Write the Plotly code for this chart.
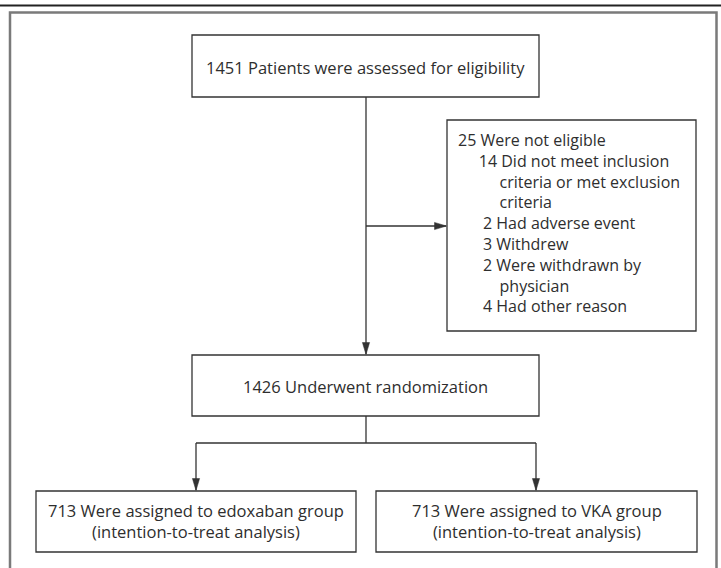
import plotly.graph_objects as go

# ---- data ----
assessed = 1451
not_eligible = 25
reason_counts = [14, 2, 3, 2, 4]
reason_lines = [
    ["Did not meet inclusion", "criteria or met exclusion", "criteria"],
    ["Had adverse event"],
    ["Withdrew"],
    ["Were withdrawn by", "physician"],
    ["Had other reason"],
]
randomized = 1426
group_names = ["edoxaban", "VKA"]
group_counts = [713, 713]

# ---- styling / layout geometry ----
W, H = 721, 568
FONT = "Open Sans"
FS = 16.5
FS_EX = 16
TXT = "#2e2e2e"
LINE = "#333333"
LW = 1.3
NB = "\u00a0"

box_top = (192, 35, 539, 97)
box_excl = (447, 120, 696, 331)
box_rand = (192, 355, 539, 416)
box_groups = [(36, 491, 356, 552), (376, 491, 697, 552)]

shapes = []
annotations = []


def rect(b):
    shapes.append(dict(type="rect", xref="x", yref="y", x0=b[0], y0=b[1], x1=b[2], y1=b[3],
                       line=dict(color=LINE, width=LW), fillcolor="white", layer="above"))


def seg(x0, y0, x1, y1, color=LINE, width=LW):
    shapes.append(dict(type="line", xref="x", yref="y", x0=x0, y0=y0, x1=x1, y1=y1,
                       line=dict(color=color, width=width), layer="above"))


def arrow_down(x, y_tip, L=12, hw=3.6):
    shapes.append(dict(type="path", xref="x", yref="y",
                       path=f"M {x-hw},{y_tip-L} L {x+hw},{y_tip-L} L {x},{y_tip} Z",
                       fillcolor=LINE, line=dict(color=LINE, width=0.5), layer="above"))


def arrow_right(x_tip, y, L=12, hw=3.6):
    shapes.append(dict(type="path", xref="x", yref="y",
                       path=f"M {x_tip-L},{y-hw} L {x_tip-L},{y+hw} L {x_tip},{y} Z",
                       fillcolor=LINE, line=dict(color=LINE, width=0.5), layer="above"))


def text(x, y, s, anchor="center", size=FS):
    annotations.append(dict(x=x, y=y, xref="x", yref="y", text=s, showarrow=False,
                            xanchor=anchor, yanchor="middle", align=anchor if anchor != "center" else "center",
                            font=dict(family=FONT, size=size, color=TXT)))


# outer frame
seg(0, 5.5, W, 5.5, color="#222222", width=2)
shapes.append(dict(type="path", xref="x", yref="y",
                   path=f"M 10,{H+5} L 10,12.5 L 716.5,12.5 L 716.5,{H+5}",
                   line=dict(color="#7a7a7a", width=2.5)))

# boxes
rect(box_top)
rect(box_excl)
rect(box_rand)
for b in box_groups:
    rect(b)

cx = 366
# main vertical line
seg(cx, box_top[3], cx, box_rand[1] - 1)
arrow_down(cx, box_rand[1] - 0.5)
# exclusion arrow
ey = 226
seg(cx, ey, box_excl[0] - 1, ey)
arrow_right(box_excl[0] - 0.5, ey)
# randomization branches
by = 443
lx, rx = 196, 536
seg(cx, box_rand[3], cx, by)
seg(lx, by, rx, by)
for x in (lx, rx):
    seg(x, by, x, box_groups[0][1] - 1)
    arrow_down(x, box_groups[0][1] - 0.5)

# texts
text(365.5, 67, f"{assessed} Patients were assessed for eligibility")
text(365.5, 386, f"{randomized} Underwent randomization")

ex_lines = [f"{not_eligible} Were not eligible"]
for cnt, parts in zip(reason_counts, reason_lines):
    ind = NB * (5 if cnt >= 10 else 6)
    ex_lines.append(f"{ind}{cnt} {parts[0]}")
    for p in parts[1:]:
        ex_lines.append(NB * 10 + p)
text(455.5, 223, "<br>".join(ex_lines), anchor="left", size=FS_EX)

for b, name, cnt in zip(box_groups, group_names, group_counts):
    mx = (b[0] + b[2]) / 2
    text(mx, 520.5, f"{cnt} Were assigned to {name} group<br>(intention-to-treat analysis)")

fig = go.Figure()
fig.update_layout(
    width=W, height=H,
    margin=dict(l=0, r=0, t=0, b=0),
    paper_bgcolor="white", plot_bgcolor="white",
    xaxis=dict(range=[0, W], visible=False, fixedrange=True),
    yaxis=dict(range=[H, 0], visible=False, fixedrange=True),
    shapes=shapes, annotations=annotations, showlegend=False,
)
fig.write_html(
    "out.html",
    config={"displayModeBar": False},
    post_script="document.body.style.margin='0';document.body.style.padding='0';document.body.style.overflow='hidden';",
)
